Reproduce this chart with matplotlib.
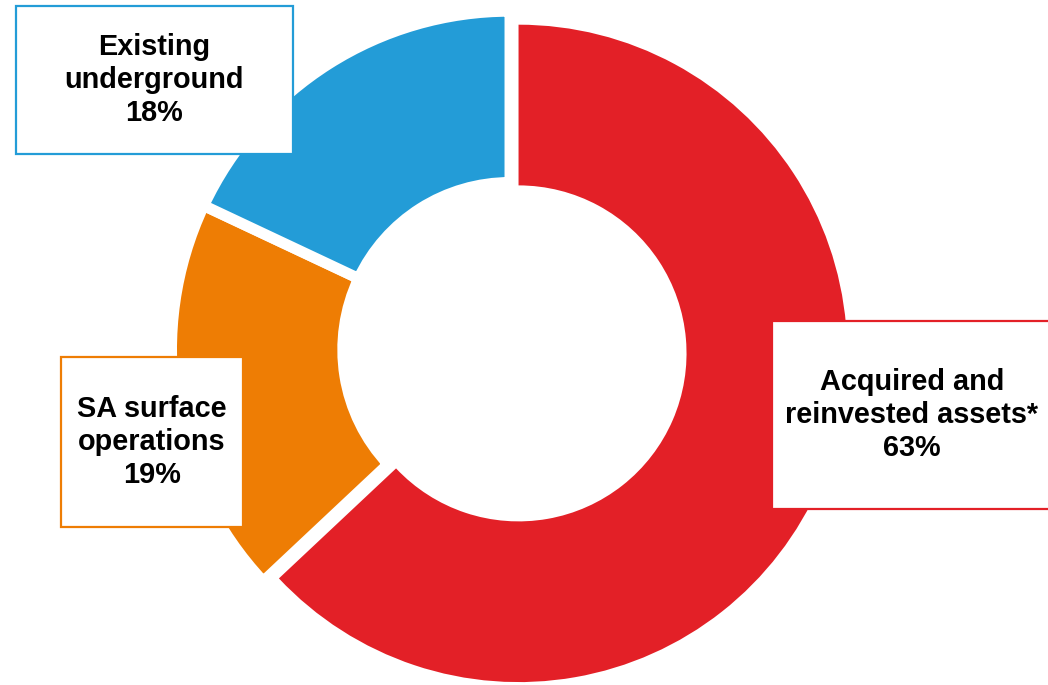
import matplotlib
matplotlib.use("Agg")
import matplotlib.pyplot as plt
from matplotlib.patches import Rectangle

# Share of output by source (clockwise from 12 o'clock)
categories = ["Acquired and\nreinvested assets*", "SA surface\noperations", "Existing\nunderground"]
shares = [63, 19, 18]
colors = ["#E32027", "#EE7D04", "#239CD7"]

W, H = 1048, 685
fig = plt.figure(figsize=(W / 100, H / 100), dpi=100)
ax = fig.add_axes([0, 0, 1, 1])

# Doughnut, drawn in pixel-sized data units (y measured upward)
ring_center = (510, H - 349.7)
outer_r = 338.5
ring_width = 171.3
wedges, _ = ax.pie(
    shares,
    colors=colors,
    startangle=90,
    counterclock=False,
    center=ring_center,
    radius=outer_r,
    explode=[9.3, 0, 0],
    wedgeprops=dict(width=ring_width, edgecolor="white", linewidth=7.9),
)
# the pulled-out slice is drawn without a separating stroke, slightly smaller
wedges[0].set_linewidth(0)
wedges[0].set_radius(328.7)
wedges[0].set_width(160.7)

ax.set_xlim(0, W)
ax.set_ylim(0, H)
ax.set_aspect("auto")
ax.axis("off")

# Label boxes: (left, top, right, bottom) in pixels
boxes = [
    (771.7, 320.7, 1052.0, 509.3),
    (60.5, 356.5, 243.3, 527.0),
    (16.0, 5.7, 292.7, 154.0),
]

for cat, val, col, (l, t, r, b) in zip(categories, shares, colors, boxes):
    rect = Rectangle((l, H - b), r - l, b - t, facecolor="white",
                     edgecolor=col, linewidth=1.6, zorder=5)
    ax.add_patch(rect)
    ax.text((l + r) / 2, H - (t + b) / 2, f"{cat}\n{val}%",
            ha="center", va="center", multialignment="center",
            fontsize=20.8, fontweight="bold", family="Liberation Sans",
            color="black", linespacing=1.22, zorder=6)

fig.savefig("out.png", dpi=100)
